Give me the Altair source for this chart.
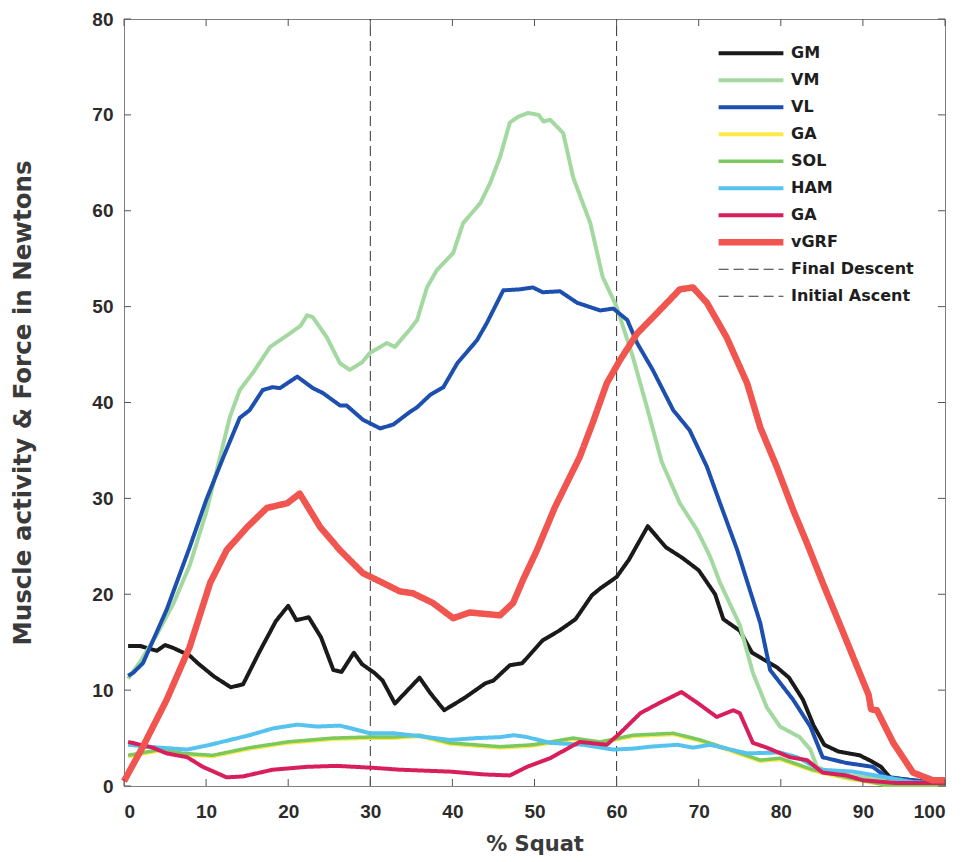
import altair as alt
import pandas as pd

# ---------------- data ----------------
series_names = ["GM", "VM", "VL", "GA", "SOL", "HAM", "GA ", "vGRF", "Final Descent", "Initial Ascent"]
series_colors = ["#1a1a1a", "#a3d9a0", "#1c4fae", "#ffe94a", "#7bc95c", "#55c3ee", "#d81f5c", "#f0554f", "#333333", "#333333"]
series_widths = [4, 4, 4, 4, 3.5, 4, 4, 6.5, 1, 1]

gm_x = [0.5, 1, 2, 4, 5, 6, 8, 9, 11, 13, 14.5, 16.5, 18.5, 20, 21, 22.5, 24, 25.5, 26.5, 28, 29, 30.5, 31.5, 33, 34, 36,
        37.3, 39, 41.5, 44, 45, 47, 48.5, 51, 53, 55, 57, 58, 60, 61.5, 63.8, 66, 68, 70, 72, 73, 75, 76.5, 79.5, 81,
        82.7, 84, 85.3, 87, 89.6, 91, 92.2, 93.3, 95, 97, 100]
gm_y = [14.6, 14.6, 14.6, 14.1, 14.7, 14.4, 13.6, 12.8, 11.4, 10.3, 10.6, 14, 17.2, 18.8, 17.3, 17.6, 15.5, 12.1, 11.9,
        13.9, 12.7, 11.8, 11, 8.6, 9.5, 11.3, 9.7, 7.9, 9.2, 10.7, 11, 12.6, 12.8, 15.2, 16.2, 17.4, 19.9, 20.6, 21.8,
        23.6, 27.1, 24.9, 23.8, 22.5, 20, 17.4, 16.2, 13.9, 12.4, 11.3, 9, 6.3, 4.3, 3.6, 3.2, 2.6, 2.0, 0.9, 0.7, 0.5, 0.3]

vm_x = [0.5, 2, 4, 6, 8, 10, 11.7, 12.9, 14.1, 15.7, 17.8, 20.2, 21.5, 22.3, 23, 24.7, 26.3, 27.5, 29, 30, 32, 33, 34.8,
        35.7, 36.9, 38.1, 40.1, 41.3, 43.4, 44.6, 45.8, 47, 48, 49.2, 50.5, 51.1, 51.9, 53.5, 54.7, 56.8, 58.3, 60, 62,
        63.7, 65.5, 67.7, 69.8, 71.4, 72.6, 75, 76.6, 78.3, 79.9, 82.3, 83.6, 84.4, 86, 90, 94, 97, 100]
vm_y = [11.2, 13, 15.8, 19, 23, 28.5, 34.3, 38.5, 41.3, 43.1, 45.8, 47.2, 48, 49.1, 48.9, 46.8, 44.1, 43.4, 44.2, 45.2,
        46.2, 45.8, 47.6, 48.6, 52, 53.8, 55.6, 58.7, 60.8, 62.9, 65.6, 69.2, 69.8, 70.2, 70, 69.3, 69.5, 68.1, 63.5,
        58.7, 53.1, 50, 44.7, 39.5, 33.8, 29.5, 26.7, 23.9, 21.2, 16.8, 11.8, 8.2, 6.2, 5.1, 3.8, 2.0, 1.4, 0.9, 0.6,
        0.4, 0.3]

vl_x = [0.5, 1.1, 2.3, 5.2, 8, 10, 12.1, 14.1, 15.3, 16.9, 18.1, 19, 21.1, 23, 24.2, 26.3, 27.1, 29.1, 31.2, 32.8, 34.8,
        35.7, 37.3, 38.9, 40.6, 43, 44.2, 46.2, 48.2, 49.8, 51, 53.1, 55.2, 58, 59.6, 61.3, 62.5, 64.4, 66.9, 68.9, 71,
        72.6, 74.7, 77.5, 78.7, 81.5, 83.6, 85.1, 88, 91.2, 92.9, 96.1, 100]
vl_y = [11.5, 11.8, 12.8, 18.4, 24.9, 29.8, 34.3, 38.4, 39.2, 41.3, 41.6, 41.5, 42.7, 41.5, 41, 39.7, 39.7, 38.2, 37.3,
        37.7, 39, 39.5, 40.8, 41.6, 44.1, 46.5, 48.3, 51.7, 51.8, 52, 51.5, 51.6, 50.4, 49.6, 49.8, 48.6, 46.2, 43.4,
        39.2, 37.1, 33.3, 29.5, 24.6, 17, 12.1, 9, 6.2, 3.0, 2.4, 2.0, 0.9, 0.6, 0.3]

ga_x = [0.5, 4.4, 7.2, 10.8, 15.3, 19.9, 25.5, 29.6, 32.8, 36, 39.7, 45.8, 49.8, 54.7, 58, 62, 66.9, 69.3, 70.2, 73.8,
        77.5, 79.9, 83.9, 88, 92.9, 100]
ga_y = [3.1, 3.7, 3.3, 3.1, 3.9, 4.5, 4.9, 5.0, 5.0, 5.2, 4.4, 4.0, 4.2, 4.9, 4.5, 5.2, 5.4, 4.9, 4.7, 3.7, 2.6, 2.8,
        1.6, 0.8, 0.1, 0.1]

sol_x = [0.5, 4.4, 7.2, 10.8, 15.3, 19.9, 25.5, 29.6, 32.8, 36, 39.7, 45.8, 49.8, 54.7, 58, 62, 66.9, 69.3, 70.2, 73.8,
         77.5, 79.9, 83.9, 88, 92.9, 100]
sol_y = [3.2, 3.8, 3.4, 3.2, 4.0, 4.6, 5.0, 5.1, 5.1, 5.3, 4.5, 4.1, 4.3, 5.0, 4.6, 5.3, 5.5, 5.0, 4.8, 3.8, 2.7, 2.9,
         1.7, 0.9, 0.1, 0.1]

ham_x = [0.5, 4.4, 7.7, 10.5, 15.3, 18.1, 21.1, 23.5, 26.3, 30, 32.8, 36, 39.7, 43, 45.8, 47.5, 49.1, 51.9, 55.9, 59.6,
         62, 64.1, 67.4, 69.3, 71.4, 75.9, 79.9, 82, 84.8, 88.8, 92.9, 96.1, 100]
ham_y = [4.3, 4.0, 3.8, 4.3, 5.3, 6.0, 6.4, 6.2, 6.3, 5.5, 5.5, 5.2, 4.8, 5.0, 5.1, 5.3, 5.1, 4.5, 4.3, 3.8, 3.9, 4.1,
         4.3, 4.0, 4.3, 3.4, 3.5, 3.0, 1.7, 1.5, 0.9, 0.4, 0.3]

ga2_x = [0.5, 3.5, 5.2, 7.7, 9.6, 12.5, 14.5, 18.1, 22.3, 25.9, 30.3, 33.6, 39.7, 44, 47, 49.1, 51.9, 55.5, 58.8, 60.4,
         62.9, 65.3, 67.9, 69.8, 72.2, 74.2, 75, 76.6, 78.3, 81.1, 83.2, 85.1, 88, 90, 94.2, 100]
ga2_y = [4.6, 4.0, 3.4, 3.0, 2.0, 0.9, 1.0, 1.7, 2.0, 2.1, 1.9, 1.7, 1.5, 1.2, 1.1, 2.0, 2.9, 4.6, 4.3, 5.5, 7.6, 8.7,
         9.8, 8.7, 7.2, 7.9, 7.6, 4.5, 4.0, 3.0, 2.7, 1.4, 1.1, 0.6, 0.3, 0.3]

vgrf_x = [0, 2.3, 5.2, 8, 10.5, 12.5, 15, 17.4, 19.9, 21.4, 23.9, 26.3, 29.1, 31.5, 33.6, 35.2, 37.6, 40.1, 42.1, 45.8,
          47.4, 48.6, 50.3, 52.5, 55.5, 57.1, 58.8, 60.4, 62.5, 64.9, 67.7, 69.3, 71, 73.4, 75.9, 77.5, 79.5, 81.5,
          83.2, 85.1, 87.6, 89.6, 90.7, 91.0, 91.7, 93.7, 96.1, 98.5, 100]
vgrf_y = [0.5, 4.1, 9, 14.5, 21.2, 24.6, 27, 29, 29.5, 30.5, 27, 24.6, 22.2, 21.2, 20.3, 20.1, 19.1, 17.5, 18.1, 17.8,
          19.1, 21.5, 24.6, 29.1, 34.3, 37.9, 42, 44.4, 47.2, 49.3, 51.8, 52, 50.4, 46.8, 42, 37.4, 33.3, 28.8, 25.3,
          21.2, 16, 11.8, 9.5, 8.0, 7.9, 4.5, 1.4, 0.6, 0.6]

final_descent_x = [30, 30]
initial_ascent_x = [60, 60]
phase_y = [0, 80]

x_ticks = [0, 10, 20, 30, 40, 50, 60, 70, 80, 90, 100]
y_ticks = [0, 10, 20, 30, 40, 50, 60, 70, 80]

# ---------------- build table ----------------
series_data = [
    ("GM", gm_x, gm_y), ("VM", vm_x, vm_y), ("VL", vl_x, vl_y), ("GA", ga_x, ga_y),
    ("SOL", sol_x, sol_y), ("HAM", ham_x, ham_y), ("GA ", ga2_x, ga2_y), ("vGRF", vgrf_x, vgrf_y),
    ("Final Descent", final_descent_x, phase_y), ("Initial Ascent", initial_ascent_x, phase_y),
]
rows = []
for name, xs, ys in series_data:
    for i, (x, y) in enumerate(zip(xs, ys)):
        rows.append({"series": name, "pct": x, "value": y, "idx": i})
df = pd.DataFrame(rows)

W, H = 821, 767
LABEL_FONT = "Liberation Sans"
TEXT_FONT = "DejaVu Sans"

x_scale = alt.Scale(domain=[0, 100], nice=False)
y_scale = alt.Scale(domain=[0, 80], nice=False)
x_axis = alt.Axis(values=x_ticks, title="% Squat", grid=False, ticks=False)
y_axis = alt.Axis(values=y_ticks, title="Muscle activity & Force in Newtons", grid=False, ticks=False)

color_enc = alt.Color("series:N", scale=alt.Scale(domain=series_names, range=series_colors),
                      legend=alt.Legend(title=None))
width_enc = alt.StrokeWidth("series:N",
                            scale=alt.Scale(type="ordinal", domain=series_names, range=series_widths),
                            legend=alt.Legend(title=None))
dash_enc = alt.StrokeDash("series:N",
                          scale=alt.Scale(domain=series_names,
                                          range=[[1, 0]] * 8 + [[10, 5], [10, 5]]),
                          legend=alt.Legend(title=None))

layers = []
# dashed phase lines first, then the series in legend order
draw_order = ["Final Descent", "Initial Ascent"] + series_names[:8]
for name in draw_order:
    layers.append(
        alt.Chart(df).transform_filter(alt.datum.series == name)
        .mark_line(strokeJoin="round", strokeCap="butt")
        .encode(
            x=alt.X("pct:Q", scale=x_scale, axis=x_axis),
            y=alt.Y("value:Q", scale=y_scale, axis=y_axis),
            color=color_enc, strokeWidth=width_enc, strokeDash=dash_enc,
            order="idx:Q",
        )
    )

xt = pd.DataFrame({"t": x_ticks})
yt = pd.DataFrame({"t": y_ticks})
tick_col = "#555555"
tick_layers = [
    alt.Chart(xt).mark_rule(color=tick_col, strokeWidth=1).encode(
        x=alt.X("t:Q", scale=x_scale, axis=x_axis), y=alt.value(H), y2=alt.value(H - 7)),
    alt.Chart(xt).mark_rule(color=tick_col, strokeWidth=1).encode(
        x=alt.X("t:Q", scale=x_scale, axis=x_axis), y=alt.value(0), y2=alt.value(7)),
    alt.Chart(yt).mark_rule(color=tick_col, strokeWidth=1).encode(
        y=alt.Y("t:Q", scale=y_scale, axis=y_axis), x=alt.value(0), x2=alt.value(7)),
    alt.Chart(yt).mark_rule(color=tick_col, strokeWidth=1).encode(
        y=alt.Y("t:Q", scale=y_scale, axis=y_axis), x=alt.value(W), x2=alt.value(W - 7)),
]

chart = (
    alt.layer(*layers, *tick_layers)
    .properties(width=W, height=H,
                padding={"left": 124, "top": 19, "right": 23, "bottom": 76},
                autosize=alt.AutoSizeParams(type="none"))
    .configure_view(stroke="#7f7f7f", strokeWidth=1)
    .configure_axis(
        domainColor="#7f7f7f", domainWidth=1,
        labelFont=LABEL_FONT, labelFontSize=19, labelFontWeight="bold", labelColor="#2b2b2b",
        titleFont=TEXT_FONT, titleFontWeight="bold", titleColor="#3a3a3a",
    )
    .configure_axisX(labelPadding=16, titlePadding=12, titleFontSize=21)
    .configure_axisY(labelPadding=11, titlePadding=56, titleFontSize=24.5)
    .configure_legend(
        orient="none", legendX=591, legendY=21,
        symbolType="stroke", symbolSize=4200, clipHeight=26.5, rowPadding=0,
        labelFont=TEXT_FONT, labelFontSize=16, labelFontWeight="bold", labelColor="#1e1e1e",
        labelOffset=4, symbolOffset=0,
    )
)

chart.save("out.html", embed_options={"renderer": "svg", "actions": False})
